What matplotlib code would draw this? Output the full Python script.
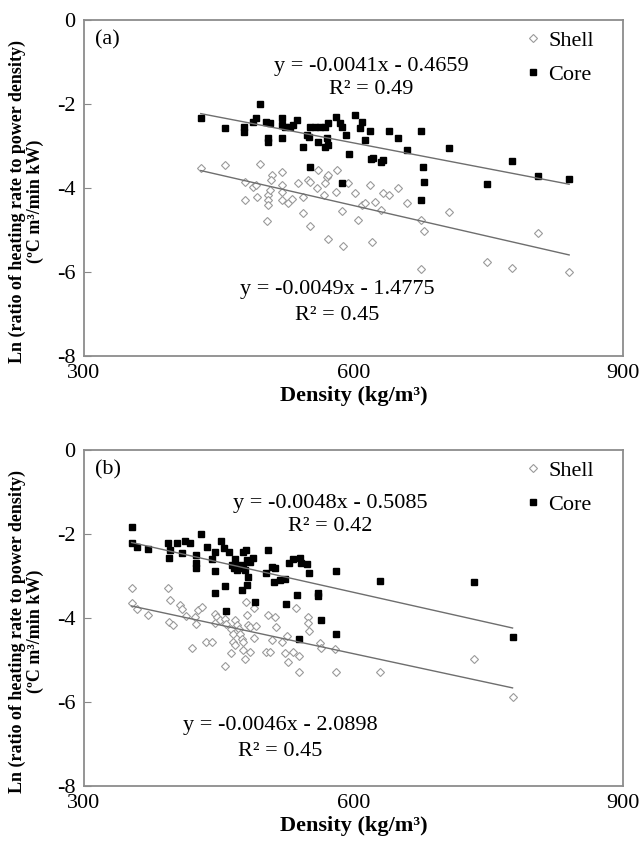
import numpy as np
import matplotlib
matplotlib.use("Agg")
import matplotlib.pyplot as plt

plt.rcParams['font.family'] = ['Liberation Serif', 'DejaVu Serif']
plt.rcParams['axes.unicode_minus'] = False

# panel (a): density vs ln(heating rate / power density)
a_core_x = [430, 457, 478, 478, 496, 488, 492, 503, 507, 505, 505, 520, 520, 520, 524, 529,
            533, 537, 548, 550, 544, 552, 557, 563, 568, 572, 561, 570, 572, 568, 552, 581,
            585, 592, 602, 595, 587, 587, 609, 607, 618, 613, 622, 620, 633, 631, 640, 650,
            659, 675, 677, 679, 675, 706, 776, 749, 805, 840]
a_core_y = [-2.34, -2.56, -2.54, -2.66, -2.01, -2.42, -2.34, -2.42, -2.46, -2.82, -2.90, -2.34,
            -2.50, -2.82, -2.54, -2.54, -2.50, -2.38, -2.74, -2.78, -3.02, -2.54, -2.54, -2.54,
            -2.54, -2.46, -2.90, -2.82, -2.98, -3.02, -3.49, -2.30, -2.46, -2.74, -2.26, -3.19,
            -3.87, -2.54, -2.42, -2.58, -2.64, -2.86, -3.29, -3.32, -3.33, -3.37, -2.64, -2.80,
            -3.10, -2.64, -3.49, -3.85, -4.29, -3.04, -3.36, -3.90, -3.71, -3.79]
a_shell_x = [430, 457, 496, 479, 479, 488, 492, 493, 505, 505, 505, 507, 509, 508, 504, 520,
             520, 520, 520, 527, 531, 538, 544, 544, 549, 552, 552, 561, 559, 567, 568, 570,
             572, 572, 581, 582, 587, 588, 594, 602, 605, 609, 613, 618, 621, 624, 631, 633,
             640, 650, 659, 675, 679, 675, 706, 749, 776, 805, 840]
a_shell_y = [-3.53, -3.45, -3.44, -3.85, -4.29, -3.97, -3.93, -4.21, -4.17, -4.29, -4.40, -4.05,
             -3.69, -3.81, -4.79, -3.61, -3.93, -4.09, -4.29, -4.36, -4.26, -3.89, -4.21, -4.60,
             -3.81, -3.86, -4.90, -3.56, -4.01, -4.17, -3.89, -3.73, -3.69, -5.22, -4.09, -3.57,
             -4.55, -5.38, -3.89, -4.11, -4.76, -4.40, -4.35, -3.93, -5.28, -4.34, -4.52, -4.13,
             -4.17, -4.01, -4.36, -4.75, -5.02, -5.94, -4.58, -5.77, -5.91, -5.06, -5.99]

# panel (b)
b_core_x = [353, 353, 359, 371, 394, 395, 396, 403, 409, 412, 418, 425, 425, 425, 430, 437,
            446, 443, 446, 446, 453, 456, 461, 457, 458, 468, 470, 465, 467, 472, 477, 481,
            485, 488, 479, 475, 470, 477, 480, 476, 481, 483, 490, 505, 503, 509, 513, 512,
            518, 524, 528, 533, 540, 542, 548, 550, 525, 537, 561, 560, 564, 539, 580, 580,
            630, 734, 777]
b_core_y = [-1.83, -2.22, -2.30, -2.36, -2.22, -2.56, -2.38, -2.22, -2.46, -2.17, -2.22, -2.50,
            -2.70, -2.82, -2.00, -2.32, -2.42, -2.60, -2.88, -3.41, -2.17, -2.34, -2.42, -3.24,
            -3.83, -2.60, -2.74, -2.74, -2.82, -2.82, -2.74, -2.62, -2.66, -2.58, -2.86, -2.78,
            -2.86, -2.42, -2.38, -3.33, -3.21, -3.02, -3.61, -2.38, -2.94, -2.78, -2.80, -3.14,
            -3.10, -3.06, -2.70, -2.60, -2.58, -2.70, -2.72, -2.94, -3.67, -3.45, -3.41, -3.47,
            -4.05, -4.50, -4.39, -2.88, -3.11, -3.15, -4.46]
b_shell_x = [353, 353, 359, 371, 394, 396, 395, 399, 407, 409, 414, 424, 425, 427, 431, 420,
             436, 442, 446, 448, 446, 451, 457, 458, 457, 464, 466, 468, 470, 472, 474, 476,
             477, 466, 468, 464, 480, 481, 483, 485, 489, 491, 489, 477, 479, 485, 505, 513,
             514, 509, 520, 526, 503, 507, 524, 527, 533, 539, 539, 536, 549, 549, 550, 563,
             564, 579, 580, 630, 734, 777]
b_shell_y = [-3.28, -3.65, -3.79, -3.93, -3.28, -3.56, -4.10, -4.17, -3.69, -3.79, -3.95, -3.97,
             -4.15, -3.81, -3.73, -4.72, -4.56, -4.58, -3.91, -3.97, -4.13, -4.05, -4.03, -4.15,
             -5.14, -4.25, -4.37, -4.05, -4.17, -4.27, -4.37, -4.49, -4.56, -4.56, -4.64, -4.84,
             -3.61, -3.93, -4.17, -4.21, -3.77, -4.19, -4.48, -4.76, -4.98, -4.82, -3.93, -3.97,
             -4.21, -4.52, -4.56, -4.44, -4.82, -4.80, -4.84, -5.04, -4.80, -4.90, -5.29, -3.77,
             -3.98, -4.13, -4.30, -4.59, -4.72, -4.74, -5.29, -5.29, -4.98, -5.89]

# fitted trend lines (slope, intercept, R2)
a_core_fit = (-0.0041, -0.4659, 0.49)
a_shell_fit = (-0.0049, -1.4775, 0.45)
b_core_fit = (-0.0048, -0.5085, 0.42)
b_shell_fit = (-0.0046, -2.0898, 0.45)


def fit_text(fit):
    k, b, r2 = fit
    return "y = %.4fx - %.4f\nR\u00b2 = %.2f" % (k, abs(b), r2)


def panel(ax, tag, core, shell, core_fit, shell_fit, core_pos, shell_pos):
    sx, sy = shell
    cx, cy = core
    ax.plot(sx, sy, 'D', ms=3.8, mfc='white', mec='#9a9a9a', mew=0.8, ls='none', label='Shell')
    ax.plot(cx, cy, 's', ms=4.8, color='black', ls='none', label='Core')
    for fit, xs in ((core_fit, cx), (shell_fit, sx)):
        xl = np.array([min(xs), max(xs)])
        ax.plot(xl, fit[0] * xl + fit[1], color='#6e6e6e', lw=1.0)
    ax.text(core_pos[0], core_pos[1], fit_text(core_fit), ha='center', va='center',
            fontsize=16, linespacing=1.3)
    ax.text(shell_pos[0], shell_pos[1], fit_text(shell_fit), ha='center', va='center',
            fontsize=16, linespacing=1.5)
    ax.text(0.02, 0.94, tag, transform=ax.transAxes, fontsize=16, va='center')

    ax.set_xlim(300, 900)
    ax.set_ylim(-8, 0)
    ax.set_xticks([300, 600, 900])
    ax.set_yticks([0, -2, -4, -6, -8])
    ax.tick_params(axis='x', length=0, labelsize=16, pad=6)
    ax.tick_params(axis='y', direction='in', length=5, color='#888888', labelsize=16, pad=6)
    for s in ax.spines.values():
        s.set_color('#8c8c8c')
        s.set_linewidth(1.3)
    ax.set_xlabel('Density (kg/m\u00b3)', fontsize=16, fontweight='bold', labelpad=2)
    ax.set_ylabel('Ln (ratio of heating rate to power density)\n(\u00baC m\u00b3/min kW)',
                  fontsize=13, fontweight='bold', linespacing=1.0)
    ax.yaxis.set_label_coords(-0.075, 0.46)
    ax.legend(loc='upper left', bbox_to_anchor=(0.82, 0.97), frameon=False, fontsize=16,
              handlelength=0.6, handletextpad=0.4, labelspacing=0.6, borderaxespad=0,
              borderpad=0)


fig = plt.figure(figsize=(6.41, 8.41), dpi=100)
ax1 = fig.add_axes([0.131, 0.5767, 0.841, 0.3995])
ax2 = fig.add_axes([0.131, 0.0654, 0.841, 0.3995])

panel(ax1, '(a)', (a_core_x, a_core_y), (a_shell_x, a_shell_y), a_core_fit, a_shell_fit,
      (620, -1.38), (582, -6.72))
panel(ax2, '(b)', (b_core_x, b_core_y), (b_shell_x, b_shell_y), b_core_fit, b_shell_fit,
      (574, -1.55), (518, -6.86))

fig.savefig('out.png', dpi=100)
